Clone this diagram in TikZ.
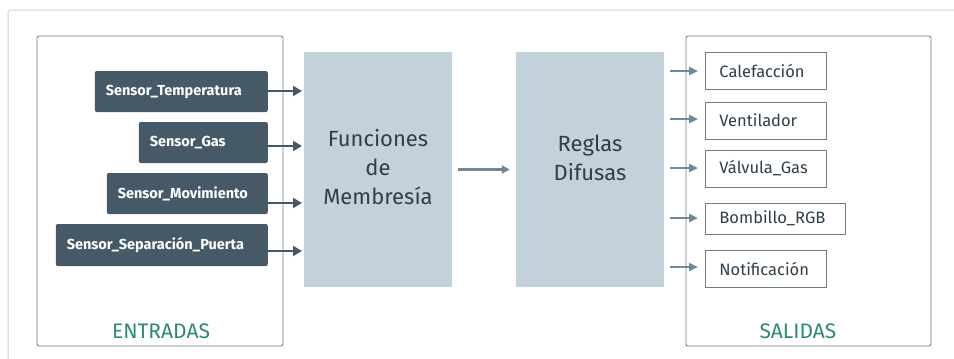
\documentclass[tikz,border=0pt]{standalone}
\usepackage{fontspec}
\setmainfont{Fira Sans}
\usetikzlibrary{arrows.meta}
\definecolor{frame}{HTML}{C4D3DB}
\definecolor{grp}{HTML}{6E7F8A}
\definecolor{dark}{HTML}{465966}
\definecolor{blk}{HTML}{C3D2DA}
\definecolor{arr}{HTML}{6F8898}
\definecolor{grn}{HTML}{2E8A6E}
\definecolor{txt}{HTML}{2F3E48}
\tikzset{
  group/.style={draw=grp, line width=0.9pt, rounded corners=2pt},
  sensor/.style={fill=dark, rounded corners=2pt, text=white, font=\fontsize{14.5}{16}\selectfont\bfseries, inner xsep=11pt, inner ysep=0pt, minimum height=41pt, anchor=east, align=left},
  block/.style={fill=blk, minimum width=148pt, minimum height=235pt, inner sep=0pt},
  blocktext/.style={text=txt, font=\fontsize{22}{29}\selectfont, align=center, inner sep=0pt},
  outbox/.style={draw=grp, line width=0.9pt, text=txt, font=\fontsize{16.5}{18}\selectfont, inner xsep=14pt, inner ysep=0pt, anchor=west, align=left},
  inarrow/.style={draw=dark, line width=2.5pt, -{Triangle[length=9pt,width=10pt]}},
  midarrow/.style={draw=arr, line width=2.5pt, -{Triangle[length=8pt,width=8pt]}},
  outarrow/.style={draw=arr, line width=2.5pt, -{Triangle[length=9pt,width=8pt]}, shorten >=7pt},
  title/.style={text=grn, font=\fontsize{21}{24}\selectfont}
}
\begin{document}
\begin{tikzpicture}[x=1pt,y=-1pt]
\useasboundingbox (0,0) rectangle (954,359);
\begin{scope}
\clip (0,0) rectangle (954,359);
\draw[draw=frame, line width=1pt, rounded corners=3pt] (8,10) rectangle (1000,420);
\end{scope}
% groups
\node[group, minimum width=246pt, minimum height=310pt] (ent) at (160,191) {};
\node[group, minimum width=245pt, minimum height=310pt] (sal) at (808.5,191) {};
\node[title] (entt) at (161,331) {ENTRADAS};
\node[title] (salt) at (798,331) {SALIDAS};
% sensors
\node[sensor, text width=151pt] (s1) at (268,91.5) {Sensor\_Temperatura};
\node[sensor, text width=107pt] (s2) at (268,142.5) {Sensor\_Gas};
\node[sensor, text width=139pt] (s3) at (268,193.5) {Sensor\_Movimiento};
\node[sensor, text width=190pt, minimum height=42pt] (s4) at (268,245) {Sensor\_Separación\_Puerta};
% blocks
\node[block] (fm) at (378,169.5) {};
\node[blocktext] (fmt) at (378,167) {Funciones\\de\\Membresía};
\node[block] (rd) at (590,169.5) {};
\node[blocktext] (rdt) at (590,158) {Reglas\\Difusas};
% inputs arrows
\coordinate (i1) at (302,91);
\coordinate (i2) at (302,146);
\coordinate (i3) at (302,203);
\coordinate (i4) at (302,251);
\draw[inarrow] (s1.east |- i1) -- (i1);
\draw[inarrow] (s2.east |- i2) -- (i2);
\draw[inarrow] (s3.east |- i3) -- (i3);
\draw[inarrow] (s4.east |- i4) -- (i4);
\draw[midarrow] ([xshift=6pt]fm.east) -- ([xshift=-6pt]rd.west);
% outputs
\node[outbox, text width=93pt, minimum height=37pt] (o1) at (705,70.5) {Calefacción};
\node[outbox, text width=93pt, minimum height=37pt] (o2) at (705,120.5) {Ventilador};
\node[outbox, text width=93pt, minimum height=37pt] (o3) at (705,168.5) {Válvula\_Gas};
\node[outbox, text width=112pt, minimum height=31pt] (o4) at (705,218.5) {Bombillo\_RGB};
\node[outbox, text width=93pt, minimum height=37pt] (o5) at (705,268.5) {Notificación};
\foreach \o/\yy in {o1/71,o2/119,o3/168,o4/218,o5/267}{
  \coordinate (c\o) at (670,\yy);
  \draw[outarrow] (c\o) -- (\o.west |- c\o);
}
\end{tikzpicture}
\end{document}
